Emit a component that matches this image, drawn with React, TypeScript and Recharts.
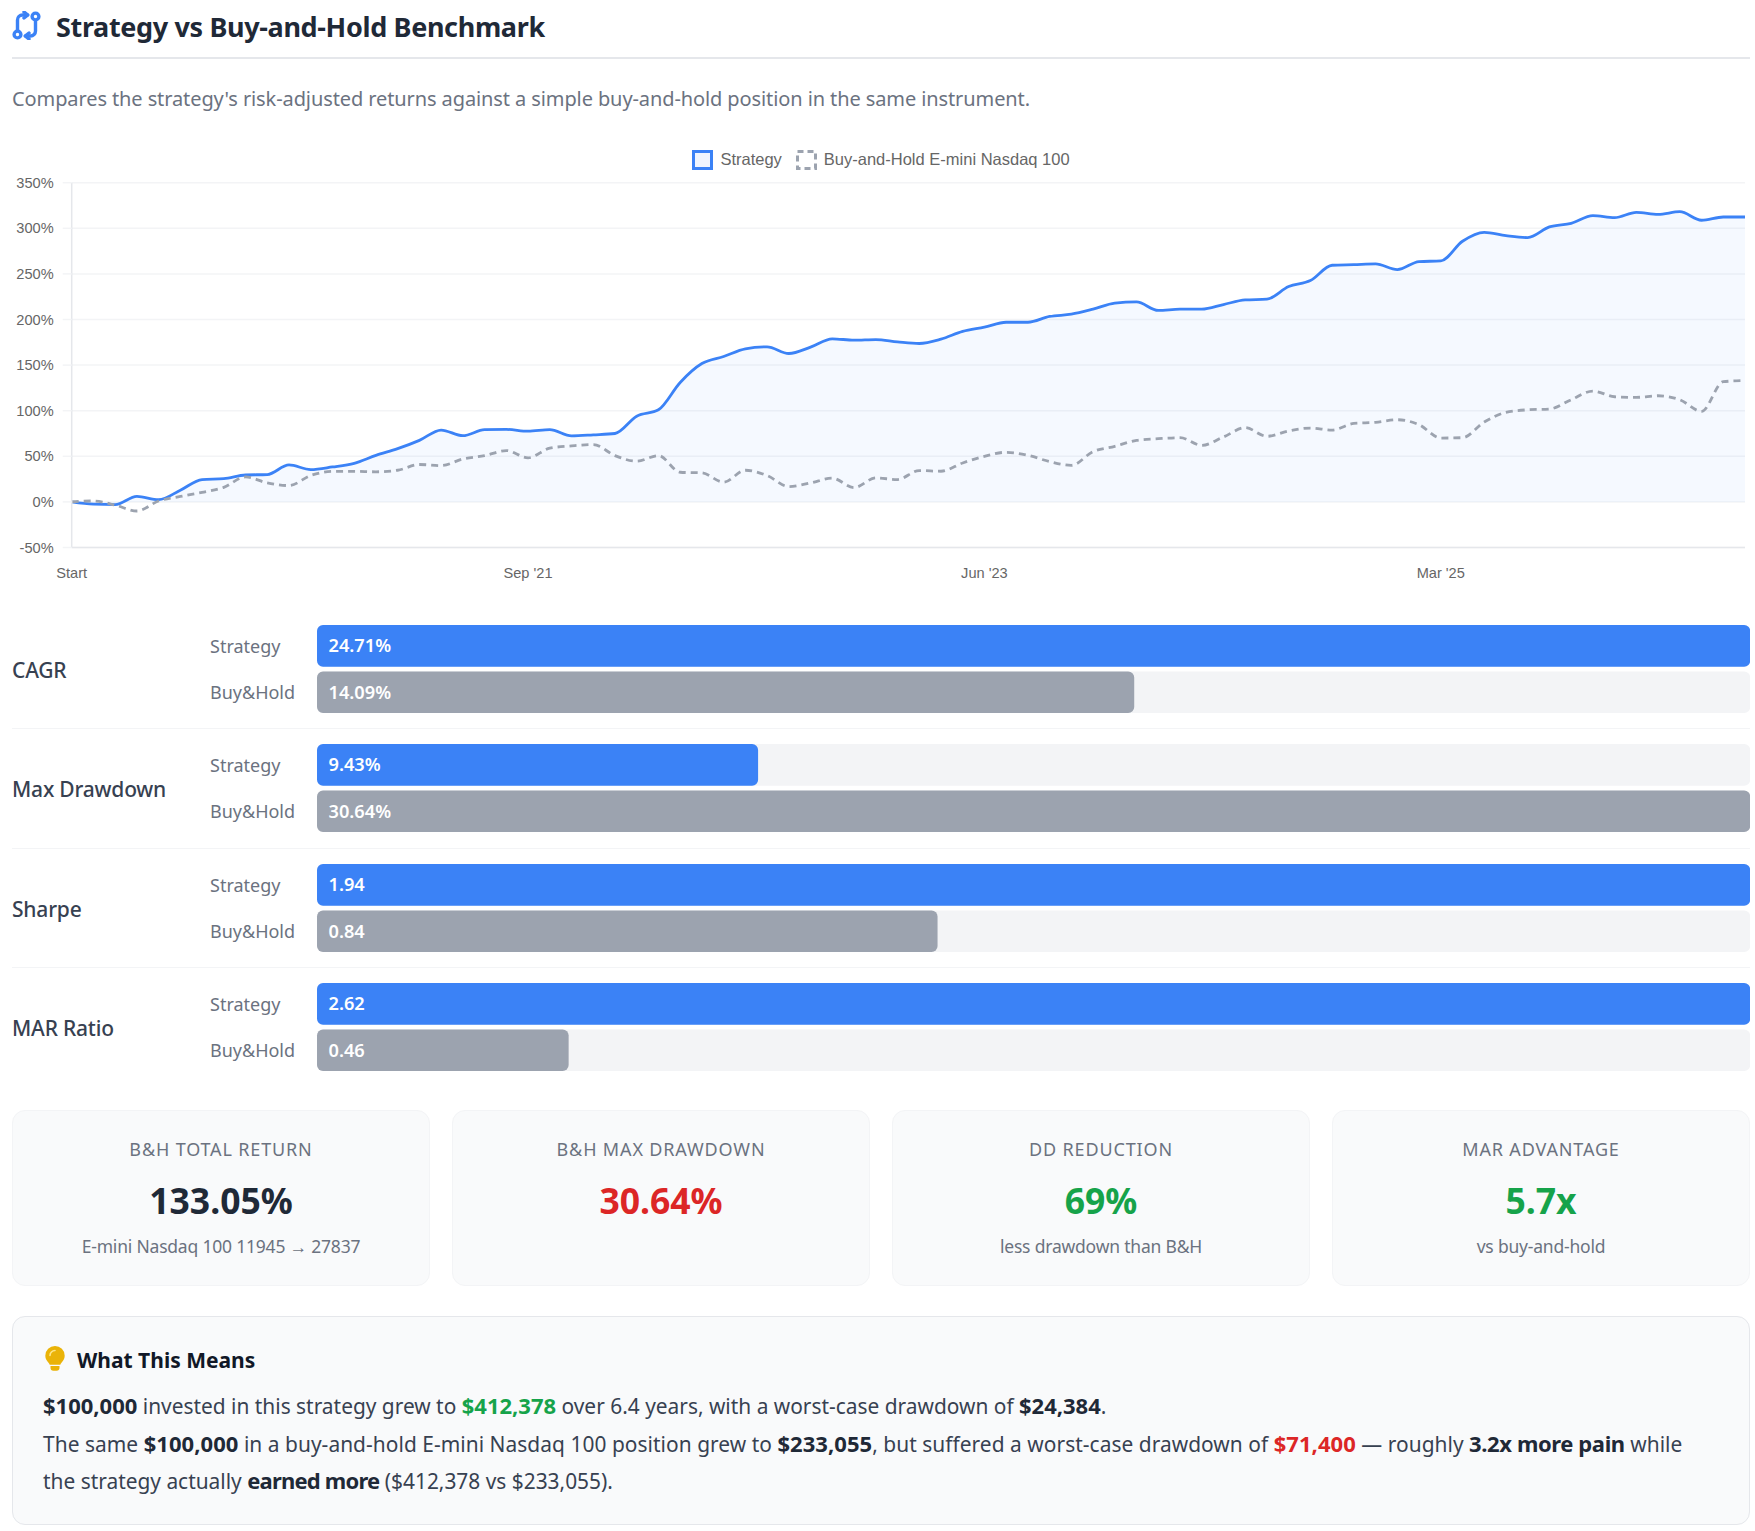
import { Area, Bar, BarChart, CartesianGrid, Cell, ComposedChart, LabelList, Legend, Line, XAxis, YAxis } from 'recharts';

const UI_FONT = '"Noto Sans", sans-serif';
const CHART_FONT = '"Liberation Sans", Arial, sans-serif';
const BLUE = '#3b82f6';
const GRAY = '#9ca3af';

const MONTHS = ['Jan', 'Feb', 'Mar', 'Apr', 'May', 'Jun', 'Jul', 'Aug', 'Sep', 'Oct', 'Nov', 'Dec'];

const strategyCurve = [
  0, -2.5, -3, 6, 2.5, 12.8, 24.5, 25.5, 29.5, 30, 40.5, 35.4, 38.3, 42.3, 51, 58.4, 67.5, 78.8, 72.6, 79.2,
  79.5, 77.5, 79.3, 72.4, 73.5, 75, 94, 101, 131, 151.7, 159.4, 167.8, 170, 162.7, 169.7, 178.8, 177.3, 178,
  175.5, 173.7, 178.4, 186.9, 191.6, 197, 197, 203.3, 205.8, 211.3, 217.9, 219.3, 209.9, 211.3, 211.3, 216.4,
  221.5, 222.3, 236.1, 242.7, 259.5, 260.2, 261, 254.7, 263.5, 264.2, 285.8, 295.6, 292, 289.8, 301.5, 305.5,
  313.9, 311.7, 317.5, 315.3, 318.2, 308.8, 312.4, 312.4,
];

const holdCurve = [
  0, 1, -3.5, -10, 1, 6, 10.5, 16, 27.4, 20.8, 17.9, 29, 33.5, 33.5, 33, 34.7, 41, 39.8, 47, 50.7,
  56.3, 48.3, 58.9, 61.4, 62.9, 50.8, 44.6, 50.8, 32.5, 31.8, 21.6, 34.7, 28.9, 16.8, 20.8, 26, 15.7, 26.3,
  24.5, 34.4, 33.6, 42.7, 50, 54.4, 51.1, 44.2, 40.1, 55.1, 60.9, 67.5, 69.3, 70.4, 62, 71.2, 81.4, 71.9,
  77.7, 81, 78.8, 86.1, 87.2, 90.1, 84.7, 70, 70.4, 87.6, 98.2, 101, 101.8, 112, 121.5, 115.3, 114.6, 116.4,
  112, 99.3, 131.8, 133.05,
];

const yTicks = [-50, 0, 50, 100, 150, 200, 250, 300, 350];

// first point is "Start", then monthly from Jan '20
const periodLabels = strategyCurve.map((_, i) => {
  if (i === 0) return 'Start';
  const m = i - 1;
  return `${MONTHS[m % 12]} '${20 + Math.floor(m / 12)}`;
});

const curveRows = strategyCurve.map((v, i) => ({ label: periodLabels[i], strategy: v, hold: holdCurve[i] }));

const metricNames = ['CAGR', 'Max Drawdown', 'Sharpe', 'MAR Ratio'];
const metricStrategy = [24.71, 9.43, 1.94, 2.62];
const metricHold = [14.09, 30.64, 0.84, 0.46];
const metricSuffix = ['%', '%', '', ''];
const rowNames = ['Strategy', 'Buy&Hold'];

const statTitles = ['B&H TOTAL RETURN', 'B&H MAX DRAWDOWN', 'DD REDUCTION', 'MAR ADVANTAGE'];
const statValues = ['133.05%', '30.64%', '69%', '5.7x'];
const statNotes = ['E-mini Nasdaq 100 11945 → 27837', '', 'less drawdown than B&H', 'vs buy-and-hold'];
const statColors = ['#1f2937', '#dc2626', '#16a34a', '#16a34a'];
const statLefts = [12, 452, 892, 1332];

function ChartLegend({ payload }: any) {
  const items = [...(payload || [])].sort((a: any) => (a.value === 'Strategy' ? -1 : 1));
  return (
    <div style={{ display: 'flex', justifyContent: 'center', alignItems: 'center', gap: 14, fontFamily: CHART_FONT, fontSize: 16.5, color: '#666' }}>
      {items.map((it: any) => {
        const isStrategy = it.value === 'Strategy';
        return (
          <span key={it.value} style={{ display: 'flex', alignItems: 'center', gap: 7 }}>
            <svg width={21} height={20}>
              <rect
                x={1.5}
                y={1.5}
                width={18}
                height={17}
                stroke={isStrategy ? BLUE : GRAY}
                strokeWidth={3}
                strokeDasharray={isStrategy ? undefined : '6 4'}
                fill={isStrategy ? 'rgba(59,130,246,0.08)' : 'transparent'}
              />
            </svg>
            {it.value}
          </span>
        );
      })}
    </div>
  );
}

function ReturnsChart() {
  return (
    <div style={{ position: 'absolute', left: 12, top: 140 }}>
      <ComposedChart width={1738} height={460} data={curveRows} margin={{ top: 22.7, right: 5, bottom: 22.5, left: 0 }}>
        <CartesianGrid vertical={false} stroke="#f3f4f6" strokeWidth={1.5} />
        <XAxis
          dataKey="label"
          scale="point"
          interval={20}
          tickLine={false}
          axisLine={{ stroke: '#e5e7eb', strokeWidth: 1.5 }}
          tick={{ fontSize: 14.6, fill: '#666', fontFamily: CHART_FONT }}
          tickMargin={14.5}
        />
        <YAxis
          width={59.7}
          domain={[-50, 350]}
          ticks={yTicks}
          tickFormatter={(v: number) => `${v}%`}
          axisLine={{ stroke: '#e5e7eb', strokeWidth: 1.5 }}
          tickLine={{ stroke: '#f3f4f6', strokeWidth: 1.5 }}
          tickSize={9}
          tickMargin={9}
          tick={{ fontSize: 14.6, fill: '#666', fontFamily: CHART_FONT }}
        />
        <Legend verticalAlign="top" content={<ChartLegend />} wrapperStyle={{ top: 9.5, left: 0, width: 1738 }} />
        <Line
          name="Buy-and-Hold E-mini Nasdaq 100"
          dataKey="hold"
          type="monotone"
          stroke={GRAY}
          strokeWidth={2.8}
          strokeDasharray="7 5"
          dot={false}
          isAnimationActive={false}
        />
        <Area
          name="Strategy"
          dataKey="strategy"
          type="monotone"
          stroke={BLUE}
          strokeWidth={2.8}
          fill={BLUE}
          fillOpacity={0.05}
          dot={false}
          isAnimationActive={false}
        />
      </ComposedChart>
    </div>
  );
}

function RowTick({ x, y, payload }: any) {
  return (
    <text x={x - 99} y={y} dy={6.5} fontSize={18} fill="#6b7280" fontFamily={UI_FONT}>
      {payload.value}
    </text>
  );
}

function MetricRow({ index, top }: { index: number; top: number }) {
  const rows = [
    { row: rowNames[0], value: metricStrategy[index], text: `${metricStrategy[index].toFixed(2)}${metricSuffix[index]}` },
    { row: rowNames[1], value: metricHold[index], text: `${metricHold[index].toFixed(2)}${metricSuffix[index]}` },
  ];
  const max = Math.max(metricStrategy[index], metricHold[index]);
  return (
    <>
      <div style={{ position: 'absolute', left: 12, top: top + 32, fontFamily: UI_FONT, fontSize: 21, letterSpacing: -0.2, fontWeight: 500, lineHeight: '30px', color: '#374151' }}>
        {metricNames[index]}
      </div>
      <div style={{ position: 'absolute', left: 209.5, top }}>
        <BarChart width={1540.2} height={92.8} data={rows} layout="vertical" margin={{ top: 0, right: 0, bottom: 0, left: 0 }} barCategoryGap={0}>
          <XAxis type="number" hide domain={[0, max]} />
          <YAxis type="category" dataKey="row" width={107} axisLine={false} tickLine={false} tick={<RowTick />} />
          <Bar dataKey="value" barSize={41.7} radius={6} background={{ fill: '#f3f4f6', radius: 6 }} isAnimationActive={false}>
            {rows.map((r, i) => (
              <Cell key={r.row} fill={i === 0 ? BLUE : GRAY} />
            ))}
            <LabelList dataKey="text" position="insideLeft" offset={11.5} fill="#fff" fontSize={18.2} fontWeight={600} fontFamily={UI_FONT} />
          </Bar>
        </BarChart>
      </div>
    </>
  );
}

function StatCard({ index }: { index: number }) {
  return (
    <div
      style={{
        position: 'absolute',
        left: statLefts[index],
        top: 1109.5,
        width: 418,
        height: 176,
        boxSizing: 'border-box',
        background: '#f9fafb',
        border: '1px solid #f3f4f6',
        borderRadius: 13,
        textAlign: 'center',
        fontFamily: UI_FONT,
      }}
    >
      <div style={{ position: 'absolute', top: 24, width: '100%', fontSize: 18, letterSpacing: 0.85, lineHeight: '28px', color: '#6b7280' }}>{statTitles[index]}</div>
      <div style={{ position: 'absolute', top: 64, width: '100%', fontSize: 35.5, lineHeight: '50px', fontWeight: 700, color: statColors[index] }}>{statValues[index]}</div>
      <div style={{ position: 'absolute', top: 121, width: '100%', fontSize: 17.5, letterSpacing: -0.2, lineHeight: '28px', color: '#6b7280' }}>{statNotes[index]}</div>
    </div>
  );
}

function Strong({ children, color = '#1f2937', tight }: { children: any; color?: string; tight?: number }) {
  return <strong style={{ fontWeight: 700, fontSize: 22, lineHeight: 0, letterSpacing: tight, color }}>{children}</strong>;
}

function Explainer() {
  return (
    <div
      style={{
        position: 'absolute',
        left: 12,
        top: 1316,
        width: 1738,
        height: 208.5,
        boxSizing: 'border-box',
        background: '#f9fafb',
        border: '1.5px solid #e5e7eb',
        borderRadius: 13,
        fontFamily: UI_FONT,
      }}
    >
      <svg style={{ position: 'absolute', left: 31, top: 29 }} width={22} height={25} viewBox="0 0 22 25">
        <path d="M11 0a9.7 9.7 0 0 0-9.7 9.7c0 3.4 1.7 5.2 3.2 7 .6.8 1 1.4 1.2 2h10.6c.2-.6.6-1.2 1.2-2 1.5-1.8 3.2-3.6 3.2-7A9.7 9.7 0 0 0 11 0z" fill="#eab308" />
        <path d="M6.5 20h9v1.7a3 3 0 0 1-3 3h-3a3 3 0 0 1-3-3z" fill="#eab308" />
        <path d="M6 9.5a5 5 0 0 1 5-5" stroke="#fde68a" strokeWidth="1.6" fill="none" strokeLinecap="round" />
      </svg>
      <div style={{ position: 'absolute', left: 64, top: 28, fontSize: 21, lineHeight: '30px', fontWeight: 700, color: '#111827' }}>What This Means</div>
      <div style={{ position: 'absolute', left: 30, top: 71, width: 1690, fontSize: 20.9, lineHeight: '37.5px', color: '#374151', whiteSpace: 'nowrap' }}>
        <Strong>$100,000</Strong> invested in this strategy grew to <Strong color="#16a34a">$412,378</Strong> over 6.4 years, with a worst-case drawdown of <Strong>$24,384</Strong>.
        <br />
        <span style={{ letterSpacing: 0.05 }}>
          The same <Strong>$100,000</Strong> in a buy-and-hold E-mini Nasdaq 100 position grew to <Strong>$233,055</Strong>, but suffered a worst-case drawdown of <Strong color="#dc2626">$71,400</Strong> — roughly <Strong tight={-0.4}>3.2x more pain</Strong> while
        </span>
        <br />
        the strategy actually <Strong tight={-0.8}>earned more</Strong> ($412,378 vs $233,055).
      </div>
    </div>
  );
}

export default function App() {
  return (
    <div style={{ position: 'absolute', left: 0, top: 0, width: 1755, height: 1531, background: '#fff', overflow: 'hidden' }}>
      <svg style={{ position: 'absolute', left: 12, top: 11 }} width={29} height={29} viewBox="0 0 29 29" fill="none" stroke={BLUE} strokeWidth={3.4} strokeLinecap="round" strokeLinejoin="round">
        <circle cx="5.5" cy="23.5" r="3.4" />
        <circle cx="23.5" cy="5.5" r="3.4" />
        <path d="M5.5 19.5V9a5 5 0 0 1 5-5h5" />
        <path d="M12 1l3.8 3-3.8 3" />
        <path d="M23.5 9.5V20a5 5 0 0 1-5 5h-5" />
        <path d="M17 22l-3.8 3 3.8 3" />
      </svg>
      <div style={{ position: 'absolute', left: 56, top: 7, fontFamily: UI_FONT, fontSize: 27, letterSpacing: -0.35, lineHeight: '40px', fontWeight: 700, color: '#1f2937', whiteSpace: 'nowrap' }}>
        Strategy vs Buy-and-Hold Benchmark
      </div>
      <div style={{ position: 'absolute', left: 12, top: 57, width: 1738, height: 1.5, background: '#e5e7eb' }} />
      <div style={{ position: 'absolute', left: 12, top: 82.5, fontFamily: UI_FONT, fontSize: 20, letterSpacing: -0.1, lineHeight: '32px', color: '#6b7280', whiteSpace: 'nowrap' }}>
        Compares the strategy's risk-adjusted returns against a simple buy-and-hold position in the same instrument.
      </div>
      <ReturnsChart />
      {metricNames.map((_, i) => (
        <MetricRow key={i} index={i} top={622.65 + i * 119.45} />
      ))}
      {[0, 1, 2].map((i) => (
        <div key={i} style={{ position: 'absolute', left: 12, top: 728 + i * 119.5, width: 1738, height: 1, background: '#f3f4f6' }} />
      ))}
      {statTitles.map((_, i) => (
        <StatCard key={i} index={i} />
      ))}
      <Explainer />
    </div>
  );
}
